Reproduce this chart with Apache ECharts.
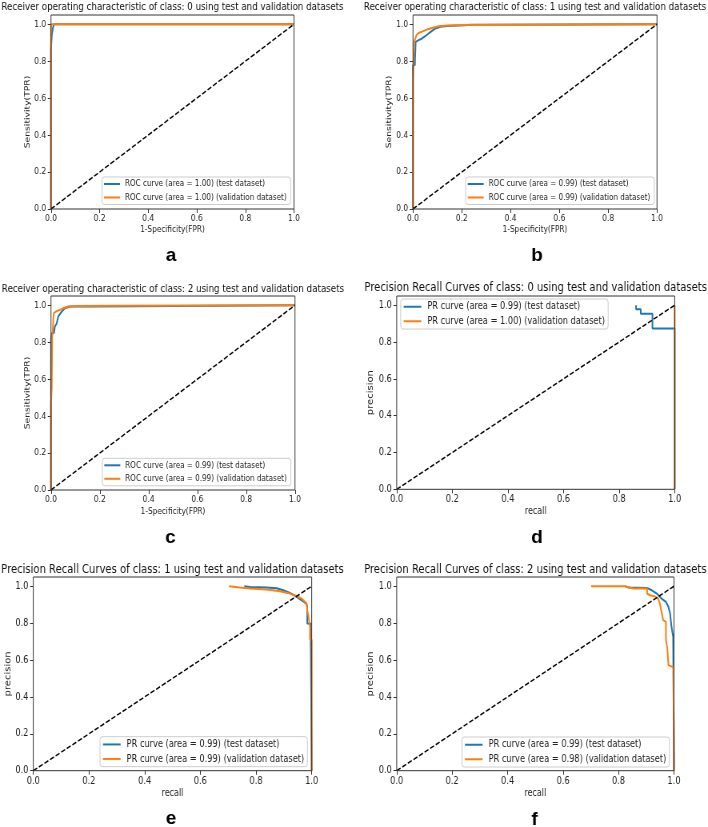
<!DOCTYPE html>
<html><head><meta charset="utf-8">
<script src="https://cdn.jsdelivr.net/npm/echarts@6/dist/echarts.min.js"></script>
<style>
html,body{margin:0;padding:0;background:#fff;overflow:hidden}
#wrap{width:708px;height:827px;overflow:hidden;position:relative}
#c{width:885px;height:827px;transform:scaleX(0.8);transform-origin:0 0}
</style>
</head><body><div id="wrap"><div id="c"></div></div>
<script>
// ---------- data ----------
const panelTitles = [
  'Receiver operating characteristic of class: 0 using test and validation datasets',
  'Receiver operating characteristic of class: 1 using test and validation datasets',
  'Receiver operating characteristic of class: 2 using test and validation datasets',
  'Precision Recall Curves of class: 0 using test and validation datasets',
  'Precision Recall Curves of class: 1 using test and validation datasets',
  'Precision Recall Curves of class: 2 using test and validation datasets'
];
const xAxisNames = ['1-Specificity(FPR)','1-Specificity(FPR)','1-Specificity(FPR)','recall','recall','recall'];
const yAxisNames = ['Sensitivity(TPR)','Sensitivity(TPR)','Sensitivity(TPR)','precision','precision','precision'];
const panelLetters = ['a','b','c','d','e','f'];
const tickValues = [0, 0.2, 0.4, 0.6, 0.8, 1.0];
const testNames = [
  'ROC curve (area = 1.00) (test dataset)',
  'ROC curve (area = 0.99) (test dataset)',
  'ROC curve (area = 0.99) (test dataset)',
  'PR curve (area = 0.99) (test dataset)',
  'PR curve (area = 0.99) (test dataset)',
  'PR curve (area = 0.99) (test dataset)'
];
const validationNames = [
  'ROC curve (area = 1.00) (validation dataset)',
  'ROC curve (area = 0.99) (validation dataset)',
  'ROC curve (area = 0.99) (validation dataset)',
  'PR curve (area = 1.00) (validation dataset)',
  'PR curve (area = 0.99) (validation dataset)',
  'PR curve (area = 0.98) (validation dataset)'
];
const diagonal = [[0,0],[1,1]];

const rocTestClass0 = [[0,0],[0,0.87],[0.004,0.87],[0.004,0.95],[0.008,0.95],[0.008,0.98],[0.012,0.98],[0.012,1.0],[1,1]];
const rocValClass0  = [[0,0],[0,1],[1,1]];

const rocTestClass1 = [[0,0],[0,0.78],[0.008,0.78],[0.008,0.80],[0.011,0.80],[0.011,0.905],[0.023,0.914],[0.037,0.923],[0.05,0.935],[0.064,0.95],[0.078,0.964],[0.092,0.977],[0.112,0.986],[0.14,0.991],[0.208,0.995],[0.24,0.997],[0.268,0.997],[0.268,1.0],[1,1]];
const rocValClass1  = [[0,0],[0,0.70],[0.003,0.70],[0.003,0.82],[0.005,0.82],[0.005,0.905],[0.01,0.914],[0.014,0.94],[0.023,0.953],[0.037,0.96],[0.057,0.971],[0.085,0.982],[0.105,0.989],[0.14,0.993],[0.22,0.996],[0.23,0.996],[0.23,1.0],[1,1]];

const rocTestClass2 = [[0,0],[0,0.82],[0.004,0.82],[0.004,0.85],[0.012,0.85],[0.016,0.885],[0.023,0.90],[0.03,0.94],[0.044,0.966],[0.057,0.984],[0.078,0.993],[0.17,0.993],[0.17,1.0],[1,1]];
const rocValClass2  = [[0,0],[0,0.47],[0.003,0.47],[0.003,0.55],[0.005,0.55],[0.005,0.83],[0.007,0.85],[0.01,0.94],[0.012,0.957],[0.02,0.966],[0.037,0.975],[0.05,0.984],[0.071,0.993],[0.12,0.996],[0.255,0.997],[0.255,1.0],[1,1]];

const prTestClass0 = [[0.861,1.0],[0.861,0.978],[0.878,0.978],[0.878,0.953],[0.92,0.953],[0.92,0.873],[1.0,0.873],[1.0,0]];
const prValClass0  = [[1.0,1.0],[1.0,0]];

const prTestClass1 = [[0.758,1.0],[0.778,0.996],[0.838,0.993],[0.874,0.989],[0.898,0.978],[0.922,0.964],[0.946,0.942],[0.964,0.924],[0.98,0.906],[0.984,0.89],[0.984,0.798],[0.996,0.798],[0.996,0.79],[1.0,0.79],[1.0,0]];
const prValClass1  = [[0.703,1.0],[0.705,0.995],[0.742,0.993],[0.778,0.988],[0.838,0.982],[0.886,0.973],[0.922,0.96],[0.946,0.947],[0.964,0.933],[0.976,0.915],[0.982,0.906],[0.984,0.87],[0.988,0.84],[0.992,0.80],[0.994,0.78],[0.994,0.71],[1.0,0.71],[1.0,0]];

const prTestClass2 = [[0.825,1.0],[0.836,0.993],[0.902,0.991],[0.92,0.978],[0.938,0.96],[0.955,0.933],[0.971,0.915],[0.98,0.888],[0.986,0.852],[0.991,0.78],[0.997,0.726],[1.0,0.72],[1.0,0]];
const prValClass2  = [[0.701,1.0],[0.823,1.0],[0.853,0.988],[0.903,0.988],[0.903,0.96],[0.913,0.951],[0.931,0.945],[0.943,0.933],[0.949,0.906],[0.955,0.861],[0.961,0.816],[0.971,0.807],[0.971,0.708],[0.976,0.662],[0.98,0.572],[0.981,0.563],[0.998,0.56],[1.0,0.56],[1.0,0]];

const testCurves = [rocTestClass0, rocTestClass1, rocTestClass2, prTestClass0, prTestClass1, prTestClass2];
const validationCurves = [rocValClass0, rocValClass1, rocValClass2, prValClass0, prValClass1, prValClass2];

// ---------- layout (picture pixels; x is squeezed by K) ----------
const K = 0.8;
const X = v => v / K;
const FONT = '"DejaVu Sans", sans-serif';
const rocStyle = {title:10.9, tick:9.4, name:9.2, legend:9.0, lgLine:11, lgPad:[1.5,5,1.5,2.5], lgItemW:20, lgTextPad:1.2};
const prStyle  = {title:12.5, tick:10.3, name:10.0, legend:10.3, lgLine:12, lgPad:[1.75,4,1.75,3.75], lgItemW:22, lgTextPad:2.5};
const layout = [
  {l:51,    t:15,  w:243,   h:194,   tt:1.5,   lg:[102,177],    lt:[171,256],    yGap:23,   xGap:16,   s:rocStyle},
  {l:413,   t:15,  w:244,   h:194,   tt:1.5,   lg:[465.7,177],  lt:[537,256],    yGap:23,   xGap:16,   s:rocStyle},
  {l:51,    t:296, w:244,   h:194,   tt:283.5, lg:[102.3,458.3],lt:[170.5,537.5],yGap:23,   xGap:17.5, s:rocStyle},
  {l:396.7, t:296, w:278,   h:193.3, tt:281.5, lg:[400.7,299],  lt:[537,538],    yGap:27.5, xGap:17.5, s:prStyle},
  {l:33.3,  t:577, w:278.4, h:193.7, tt:563,   lg:[100,736.7],  lt:[171,819],    yGap:26.5, xGap:17.5, s:prStyle},
  {l:396.7, t:577, w:277.3, h:193.7, tt:563,   lg:[462,737],    lt:[534.5,820],  yGap:27.5, xGap:17.5, s:prStyle}
];
const BLUE = '#1f77b4', ORANGE = '#ff7f0e';
const fmt = v => v.toFixed(1);

const chart = echarts.init(document.getElementById('c'), null, {renderer:'canvas'});
const series = [];
layout.forEach((p, i) => {
  series.push({type:'line', name:testNames[i], xAxisIndex:i, yAxisIndex:i, data:testCurves[i],
    symbol:'none', showSymbol:false, itemStyle:{color:BLUE}, lineStyle:{color:BLUE, width:2}, z:2});
  series.push({type:'line', name:validationNames[i], xAxisIndex:i, yAxisIndex:i, data:validationCurves[i],
    symbol:'none', showSymbol:false, itemStyle:{color:ORANGE}, lineStyle:{color:ORANGE, width:2}, z:2});
  series.push({type:'line', name:'chance', xAxisIndex:i, yAxisIndex:i, data:diagonal,
    symbol:'none', showSymbol:false, itemStyle:{color:'#000'}, lineStyle:{color:'#000', width:1.5, type:[5.5,2.4]}, z:2});
});

const option = {
  animation:false,
  backgroundColor:'#fff',
  title: layout.map((p,i)=>({
    text: panelTitles[i], left: X(p.l + p.w/2), top: p.tt, textAlign:'center', padding:0,
    textStyle:{fontSize:p.s.title, fontWeight:'normal', fontFamily:FONT, color:'#111'}
  })),
  grid: layout.map(p=>({left:X(p.l), top:p.t, width:X(p.w), height:p.h, show:true,
    borderColor:'#333', borderWidth:1, backgroundColor:'transparent', z:3, containLabel:false, outerBoundsMode:'none'})),
  xAxis: layout.map((p,i)=>({gridIndex:i, type:'value', min:0, max:1,
    axisLine:{show:false}, splitLine:{show:false},
    axisTick:{show:true, length:4, customValues:tickValues, lineStyle:{color:'#333', width:1}},
    axisLabel:{customValues:tickValues, formatter:fmt, fontSize:p.s.tick, fontFamily:FONT, color:'#222', margin:5.5},
    name:xAxisNames[i], nameLocation:'middle', nameGap:p.xGap,
    nameTextStyle:{fontSize:p.s.name, fontFamily:FONT, color:'#222'}})),
  yAxis: layout.map((p,i)=>({gridIndex:i, type:'value', min:0, max:1.05,
    axisLine:{show:false}, splitLine:{show:false},
    axisTick:{show:true, length:4, customValues:tickValues, lineStyle:{color:'#333', width:1}},
    axisLabel:{customValues:tickValues, formatter:fmt, fontSize:p.s.tick, fontFamily:FONT, color:'#222', margin:6},
    name:yAxisNames[i], nameLocation:'middle', nameGap:p.yGap, nameRotate:90,
    nameTextStyle:{fontSize:p.s.name, fontFamily:FONT, color:'#222'}})),
  legend: layout.map((p,i)=>({
    orient:'vertical', left:X(p.lg[0]), top:p.lg[1], data:[testNames[i], validationNames[i]],
    icon:'rect', itemWidth:p.s.lgItemW, itemHeight:2, itemGap:2.5, padding:p.s.lgPad,
    backgroundColor:'rgba(255,255,255,0.85)', borderColor:'#cccccc', borderWidth:1, borderRadius:3,
    selectedMode:false,
    textStyle:{fontSize:p.s.legend, fontFamily:FONT, color:'#222', lineHeight:p.s.lgLine, padding:[0,0,0,p.s.lgTextPad]}
  })),
  series: series,
  graphic: layout.map((p,i)=>({
    type:'text', x:X(p.lt[0]), y:p.lt[1], scaleX:1/K, silent:true,
    style:{text:panelLetters[i], fontSize:19, fontWeight:'bold', fontFamily:'"Liberation Sans", Arial, sans-serif',
      fill:'#000', align:'center', verticalAlign:'middle', textAlign:'center', textVerticalAlign:'middle'}
  }))
};
chart.setOption(option);
</script>
</body></html>
